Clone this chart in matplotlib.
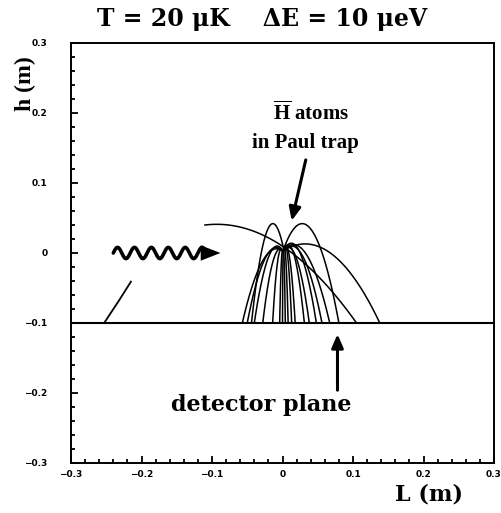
import numpy as np
import matplotlib
matplotlib.use("Agg")
import matplotlib.pyplot as plt
from matplotlib.ticker import MultipleLocator

plt.rcParams['mathtext.fontset'] = 'custom'
plt.rcParams['mathtext.rm'] = 'Liberation Serif:bold'
plt.rcParams['mathtext.bf'] = 'Liberation Serif:bold'

# chart values
title = "T = 20 \u03bcK    \u0394E = 10 \u03bceV"
x_label = "L (m)"
y_label = "h (m)"
x_range = (-0.3, 0.3)
y_range = (-0.3, 0.3)
ticks = [-0.3, -0.2, -0.1, 0, 0.1, 0.2, 0.3]
tick_labels = ["\u22120.3", "\u22120.2", "\u22120.1", "0", "0.1", "0.2", "0.3"]
detector_h = -0.1

# trajectories: launch point, apex height, landing position on detector plane
launch_x = [-0.002, -0.001, 0.002, 0.000, 0.000, -0.001, 0.000, 0.001, 0.001,
            0.002, 0.002, 0.003, 0.002, 0.003, 0.002, 0.003, 0.002, 0.001,
            0.002, -0.110]
launch_y = [0.004, 0.004, 0.004, 0.004, 0.004, 0.004, 0.004, 0.004, 0.004,
            0.004, 0.004, 0.004, 0.004, 0.004, 0.004, 0.004, 0.004, 0.004,
            0.004, 0.040]
apex_h = [0.006, 0.008, 0.042, 0.010, 0.006, 0.005, 0.004, 0.004, 0.005,
          0.006, 0.010, 0.008, 0.012, 0.008, 0.014, 0.010, 0.012, 0.042,
          0.013, 0.041]
land_x = [-0.057, -0.050, -0.044, -0.040, -0.028, -0.014, -0.004, 0.000, 0.004,
          0.008, 0.013, 0.018, 0.031, 0.038, 0.048, 0.056, 0.067, 0.080,
          0.138, 0.105]

# short stray track on the left
stray_x = [-0.215, -0.232, -0.253]
stray_y = [-0.041, -0.068, -0.100]

# incoming laser photon (wavy arrow)
wave_start, wave_end, wave_h = -0.240, -0.112, 0.0
wave_amp, wave_period = 0.008, 0.024
head_end = -0.088


def trajectory(x0, y0, ya, xl, yl=detector_h):
    """Parabola through launch point with given apex height, ending at (xl, yl)."""
    r = np.sqrt((ya - y0) / (ya - yl))
    xa = (x0 + r * xl) / (1 + r)
    k = (ya - yl) / (xl - xa) ** 2
    x = np.linspace(x0, xl, 200)
    return x, ya - k * (x - xa) ** 2


fig = plt.figure(figsize=(5.02, 5.13), dpi=100)
ax = fig.add_axes([71 / 502, 1 - 463 / 513, 423 / 502, 420 / 513])

for x0, y0, ya, xl in zip(launch_x, launch_y, apex_h, land_x):
    xs, ys = trajectory(x0, y0, ya, xl)
    ax.plot(xs, ys, color='black', lw=1.1)

ax.plot(stray_x, stray_y, color='black', lw=1.3)
ax.axhline(detector_h, color='black', lw=1.5)

# wavy arrow
wx = np.linspace(wave_start, wave_end, 300)
wy = wave_h + wave_amp * np.sin(2 * np.pi * (wx - wave_start) / wave_period)
ax.plot(wx, wy, color='black', lw=2.6, solid_capstyle='round')
ax.fill([wave_end - 0.004, head_end, wave_end - 0.004],
        [wave_h + 0.011, wave_h, wave_h - 0.011], color='black', lw=0)

serif = 'Liberation Serif'
wide = 'DejaVu Serif'
ax.text(0.040, 0.200, r"$\overline{\mathrm{H}}$ atoms", ha='center', va='center',
        fontsize=15, fontweight='bold', family=serif)
ax.text(0.032, 0.157, "in Paul trap", ha='center', va='center',
        fontsize=15, fontweight='bold', family=serif)
ax.annotate("", xy=(0.013, 0.046), xytext=(0.033, 0.133),
            arrowprops=dict(arrowstyle='-|>,head_length=0.8,head_width=0.35',
                            color='black', lw=2.2, shrinkA=0, shrinkB=0))
ax.text(-0.030, -0.217, "detector plane", ha='center', va='center',
        fontsize=16, fontweight='bold', family=wide)
ax.annotate("", xy=(0.078, -0.116), xytext=(0.078, -0.196),
            arrowprops=dict(arrowstyle='-|>,head_length=0.8,head_width=0.35',
                            color='black', lw=2.2, shrinkA=0, shrinkB=0))

ax.set_xlim(*x_range)
ax.set_ylim(*y_range)
ax.set_xticks(ticks)
ax.set_yticks(ticks)
ax.set_xticklabels(tick_labels)
ax.set_yticklabels(tick_labels)
ax.xaxis.set_minor_locator(MultipleLocator(0.02))
ax.yaxis.set_minor_locator(MultipleLocator(0.02))
ax.tick_params(which='both', direction='in', top=False, right=False, width=1.3)
ax.tick_params(which='major', length=5)
ax.tick_params(which='minor', length=3)
ax.tick_params(axis='x', pad=5)
ax.tick_params(axis='y', pad=17)
for lbl in ax.get_xticklabels() + ax.get_yticklabels():
    lbl.set_fontsize(6.5)
    lbl.set_fontweight('bold')
    lbl.set_family('DejaVu Sans')
for sp in ax.spines.values():
    sp.set_linewidth(1.4)

fig.text(262 / 502, 1 - 19 / 513, title, ha='center', va='center',
         fontsize=17, fontweight='bold', family=wide)
fig.text(25 / 502, 1 - 84 / 513, y_label, ha='center', va='center', rotation=90,
         fontsize=17, fontweight='bold', family=serif)
fig.text(429 / 502, 1 - 495 / 513, x_label, ha='center', va='center',
         fontsize=16, fontweight='bold', family=wide)

fig.savefig("out.png", dpi=100)
